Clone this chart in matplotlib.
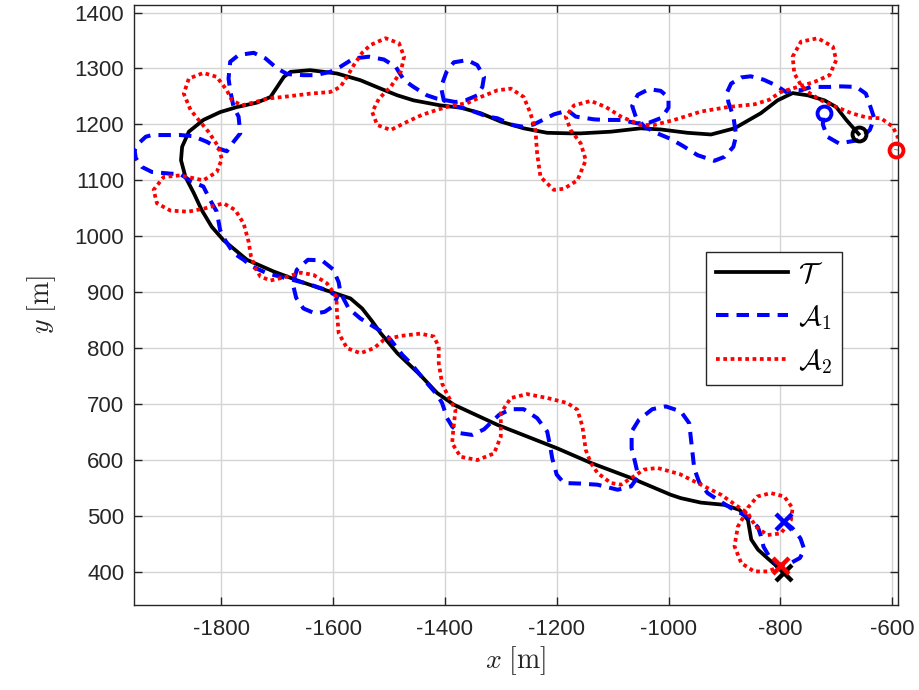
import numpy as np
import matplotlib
matplotlib.use('Agg')
from matplotlib import pyplot as plt

# target trajectory T (from the x end back to the o start)
tx = [-793, -799, -820, -840, -852, -858, -873, -900, -942, -978, -996, -1067, -1139, -1199,
      -1306, -1384, -1414, -1444, -1485, -1515, -1530, -1548, -1569, -1596, -1623, -1658, -1706,
      -1754, -1796, -1817, -1835, -1849, -1864, -1872, -1870, -1858, -1832, -1802, -1772, -1736,
      -1712, -1700, -1688, -1676, -1641, -1593, -1551, -1515, -1485, -1456, -1408, -1372, -1336,
      -1300, -1259, -1217, -1175, -1157, -1103, -1050, -1014, -966, -924, -882, -835, -805, -778,
      -751, -721, -700, -682, -660]
ty = [398, 404, 422, 440, 458, 493, 511, 520, 524, 532, 538, 568, 595, 621,
      663, 699, 720, 752, 791, 827, 848, 871, 889, 898, 907, 919, 937,
      958, 993, 1017, 1047, 1077, 1106, 1136, 1160, 1187, 1208, 1222, 1231, 1239,
      1249, 1267, 1285, 1294, 1297, 1291, 1279, 1264, 1252, 1243, 1234, 1230, 1220,
      1205, 1193, 1185, 1184, 1184, 1187, 1193, 1191, 1185, 1182, 1193, 1220, 1243, 1256,
      1252, 1243, 1231, 1208, 1183]

# agent A1
a1x = [-793, -778, -764, -757, -765, -785, -805, -820, -830, -835, -840, -859, -888, -910, -930,
       -945, -954, -959, -963, -978, -1005, -1029, -1053, -1066, -1066, -1060, -1054, -1067,
       -1091, -1127, -1157, -1187, -1200, -1208, -1211, -1217, -1235, -1259, -1282, -1303,
       -1330, -1351, -1372, -1387, -1396, -1405, -1414, -1429, -1444, -1461, -1476, -1497,
       -1509, -1533, -1551, -1572, -1581, -1587, -1590, -1600, -1620, -1645, -1665, -1672,
       -1666, -1653, -1632, -1615, -1600, -1592, -1615, -1645, -1672, -1695, -1718, -1745,
       -1760, -1778, -1793, -1802, -1808, -1820, -1832, -1853, -1873, -1891, -1924, -1942,
       -1953, -1955, -1948, -1935, -1924, -1900, -1873, -1850, -1826, -1805, -1790, -1778,
       -1766, -1769, -1778, -1784, -1787, -1784, -1769, -1742, -1721, -1700, -1682, -1653,
       -1632, -1605, -1587, -1563, -1536, -1509, -1488, -1473, -1456, -1432, -1414, -1381,
       -1363, -1342, -1333, -1330, -1342, -1360, -1384, -1397, -1407, -1402, -1384, -1366,
       -1351, -1324, -1306, -1279, -1261, -1241, -1223, -1205, -1180, -1166, -1133, -1112,
       -1085, -1056, -1035, -1012, -1000, -1000, -1014, -1035, -1055, -1065, -1058, -1043,
       -1020, -996, -975, -948, -918, -900, -884, -879, -884, -893, -895, -888, -870, -853,
       -830, -808, -790, -775, -763, -745, -712, -691, -664, -647, -638, -632, -640, -660,
       -695, -716, -724, -722]
a1y = [490, 478, 460, 440, 425, 414, 413, 428, 445, 465, 480, 499, 514, 528, 541,
       560, 585, 630, 666, 687, 696, 691, 672, 651, 621, 597, 571, 553,
       547, 556, 558, 559, 574, 603, 621, 651, 675, 691, 691, 681,
       655, 645, 648, 660, 675, 702, 717, 734, 752, 773, 788, 815,
       827, 842, 853, 871, 888, 900, 918, 941, 957, 958, 940, 915,
       890, 871, 862, 865, 875, 893, 905, 915, 922, 928, 934, 946,
       958, 970, 993, 1011, 1044, 1065, 1089, 1098, 1111, 1112, 1115, 1124,
       1140, 1154, 1166, 1178, 1181, 1181, 1181, 1179, 1169, 1157, 1152, 1169,
       1184, 1214, 1231, 1261, 1282, 1312, 1324, 1328, 1318, 1300, 1290, 1288,
       1288, 1294, 1303, 1318, 1321, 1316, 1303, 1279, 1267, 1252, 1246, 1240,
       1243, 1252, 1267, 1285, 1306, 1315, 1311, 1294, 1267, 1243, 1233, 1229,
       1224, 1214, 1211, 1199, 1196, 1200, 1209, 1218, 1225, 1214, 1209, 1208,
       1208, 1202, 1203, 1212, 1230, 1248, 1260, 1263, 1253, 1233, 1212, 1196,
       1184, 1174, 1162, 1145, 1135, 1142, 1160, 1180, 1214, 1240, 1258, 1273, 1284, 1286,
       1280, 1270, 1258, 1262, 1261, 1267, 1267, 1268, 1267, 1255, 1229, 1211, 1190, 1172,
       1166, 1178, 1200, 1220]

# agent A2
a2x = [-799, -823, -847, -870, -882, -876, -865, -858, -841, -817, -793, -778, -781, -799,
       -823, -844, -858, -876, -906, -942, -980, -1020, -1044, -1062, -1085, -1103, -1127,
       -1139, -1148, -1154, -1163, -1181, -1217, -1253, -1282, -1300, -1300, -1312, -1342,
       -1372, -1387, -1385, -1381, -1396, -1405, -1411, -1411, -1420, -1444, -1479, -1509,
       -1527, -1551, -1575, -1590, -1593, -1594, -1611, -1635, -1658, -1682, -1712, -1730,
       -1739, -1747, -1751, -1760, -1775, -1796, -1829, -1859, -1891, -1915, -1921, -1903,
       -1873, -1832, -1808, -1799, -1805, -1823, -1838, -1855, -1867, -1858, -1832, -1808,
       -1790, -1781, -1763, -1739, -1718, -1682, -1641, -1605, -1587, -1575, -1563, -1548,
       -1533, -1506, -1482, -1473, -1479, -1497, -1518, -1530, -1521, -1497, -1467, -1441,
       -1414, -1390, -1360, -1336, -1306, -1282, -1259, -1247, -1238, -1235, -1229, -1205,
       -1187, -1163, -1148, -1157, -1175, -1184, -1169, -1139, -1112, -1085, -1050, -1026,
       -990, -942, -894, -846, -820, -799, -769, -739, -712, -700, -706, -733, -763, -778,
       -775, -763, -751, -727, -697, -673, -644, -620, -599, -590, -593]
a2y = [410, 401, 401, 416, 446, 481, 500, 515, 535, 541, 535, 514, 493, 469,
       466, 481, 505, 517, 538, 556, 575, 586, 583, 571, 556, 559, 577,
       595, 618, 660, 690, 702, 711, 718, 711, 684, 642, 612, 600,
       606, 630, 654, 690, 718, 737, 773, 803, 821, 826, 822, 815,
       800, 791, 800, 827, 862, 892, 916, 931, 935, 928, 921, 928,
       943, 965, 990, 1023, 1047, 1059, 1050, 1044, 1046, 1059, 1083, 1106,
       1109, 1100, 1115, 1138, 1160, 1187, 1205, 1226, 1255, 1282, 1292, 1285,
       1261, 1243, 1234, 1240, 1246, 1250, 1255, 1258, 1267, 1285, 1306, 1328,
       1342, 1354, 1345, 1321, 1294, 1267, 1246, 1222, 1199, 1190, 1205, 1217,
       1226, 1233, 1238, 1249, 1261, 1264, 1249, 1220, 1190, 1148, 1106, 1083,
       1085, 1100, 1136, 1166, 1190, 1214, 1234, 1242, 1231, 1214, 1199, 1199,
       1208, 1223, 1231, 1236, 1244, 1258, 1267, 1276, 1288, 1315, 1339, 1354, 1348, 1321,
       1291, 1270, 1258, 1243, 1230, 1220, 1212, 1211, 1196, 1178, 1154]

plt.rcParams['font.family'] = ['Liberation Sans', 'DejaVu Sans']
plt.rcParams['mathtext.fontset'] = 'cm'
plt.rcParams['axes.unicode_minus'] = False

fig = plt.figure(figsize=(9.2, 6.9), dpi=100)
ax = fig.add_axes([0.1457, 0.1232, 0.8301, 0.87])

ax.plot(tx, ty, color='k', lw=2.7, label=r'$\mathcal{T}$', zorder=3)
ax.plot(a1x, a1y, color='b', lw=2.9, dashes=(3.1, 2.0), label=r'$\mathcal{A}_1$', zorder=4)
ax.plot(a2x, a2y, color='r', lw=2.7, dashes=(1.0, 0.95), label=r'$\mathcal{A}_2$', zorder=5)

# start (o) and end (x) markers
ax.plot(tx[-1], ty[-1], 'o', mfc='none', mec='k', ms=10, mew=2.8, zorder=6, clip_on=False)
ax.plot(a1x[-1], a1y[-1], 'o', mfc='none', mec='b', ms=10, mew=2.8, zorder=6, clip_on=False)
ax.plot(a2x[-1], a2y[-1], 'o', mfc='none', mec='r', ms=10, mew=2.8, zorder=6, clip_on=False)
ax.plot(tx[0], ty[0], 'x', color='k', ms=12, mew=3.2, zorder=6, clip_on=False)
ax.plot(a1x[0], a1y[0], 'x', color='b', ms=12, mew=3.2, zorder=6, clip_on=False)
ax.plot(a2x[0], a2y[0], 'x', color='r', ms=12, mew=3.2, zorder=7, clip_on=False)

ax.set_xlim(-1956, -590)
ax.set_ylim(341, 1414)
ax.set_xticks(np.arange(-1800, -599, 200))
ax.set_yticks(np.arange(400, 1401, 100))
ax.grid(True, color='#d4d4d4', lw=1.0)
ax.set_axisbelow(True)
ax.tick_params(direction='in', top=True, right=True, length=6, width=1.0,
               labelsize=16, colors='#262626')
ax.tick_params(axis='x', pad=10)
ax.tick_params(axis='y', pad=7)
for s in ax.spines.values():
    s.set_color('#262626')
    s.set_linewidth(1.0)

ax.set_xlabel(r'$x\ \mathrm{[m]}$', fontsize=20, color='#262626', labelpad=3)
ax.set_ylabel(r'$y\ \mathrm{[m]}$', fontsize=20, color='#262626', labelpad=12)

leg = ax.legend(loc='upper right', bbox_to_anchor=(0.927, 0.588), fontsize=20,
                handlelength=2.6, fancybox=False, edgecolor='#262626', framealpha=1,
                borderpad=0.35, labelspacing=0.55, handletextpad=0.35, borderaxespad=0)
leg.get_frame().set_linewidth(1.0)

fig.savefig('out.png', dpi=100)
